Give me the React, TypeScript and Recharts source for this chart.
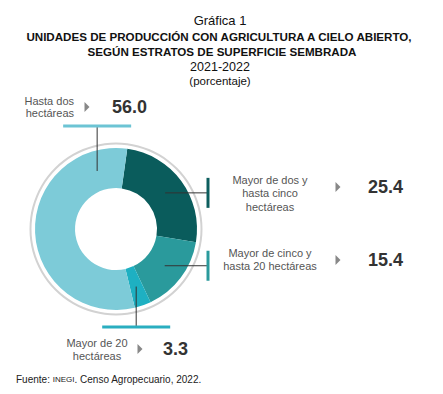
import React from 'react';
import { PieChart, Pie, Cell } from 'recharts';

const categories = [
  'Mayor de dos y hasta cinco hectáreas',
  'Mayor de cinco y hasta 20 hectáreas',
  'Mayor de 20 hectáreas',
  'Hasta dos hectáreas',
];
const values = [25.4, 15.4, 3.3, 56.0];
const valueLabels = ['25.4', '15.4', '3.3', '56.0'];
const labelLines = [
  ['Mayor de dos y', 'hasta cinco', 'hectáreas'],
  ['Mayor de cinco y', 'hasta 20 hectáreas'],
  ['Mayor de 20', 'hectáreas'],
  ['Hasta dos', 'hectáreas'],
];
const titleLines = [
  'Gráfica 1',
  'UNIDADES DE PRODUCCIÓN CON AGRICULTURA A CIELO ABIERTO,',
  'SEGÚN ESTRATOS DE SUPERFICIE SEMBRADA',
  '2021-2022',
  '(porcentaje)',
];

const data = categories.map((name, i) => ({ name, value: values[i] }));
const ringData = [{ name: 'ring', value: 1 }];

const sliceColors = ['#0a5c5c', '#2a9a9c', '#1eb0c2', '#7dcbd8'];
const barColors = ['#0d5e5e', '#2a9a9c', '#2aaec0', '#6cc4d4'];

type Layout = {
  kind: 'right' | 'up' | 'down';
  angle?: number;
  barPos: number;
  textX: number;
  textAnchor: 'start' | 'middle' | 'end';
  textYs: number[];
  triX: number;
  triY: number;
  valX: number;
  valY: number;
};

const layout: Layout[] = [
  { kind: 'right', barPos: 208, textX: 270, textAnchor: 'middle', textYs: [180, 193, 207], triX: 338, triY: 187, valX: 368, valY: 187 },
  { kind: 'right', barPos: 208, textX: 270, textAnchor: 'middle', textYs: [253, 266], triX: 338, triY: 260, valX: 368, valY: 260 },
  { kind: 'down', barPos: 327, textX: 97, textAnchor: 'middle', textYs: [343, 356], triX: 140, triY: 349, valX: 163, valY: 349 },
  { kind: 'up', angle: 108, barPos: 126, textX: 74, textAnchor: 'end', textYs: [101, 113], triX: 87, triY: 107, valX: 112, valY: 107 },
];

const RAD = Math.PI / 180;
const FONT = '"Liberation Sans", Arial, sans-serif';

const renderLabel = (props: any) => {
  const { cx, cy, midAngle, innerRadius, outerRadius, index } = props;
  const L = layout[index];
  const ang = L.angle ?? midAngle;
  const r = (innerRadius + outerRadius) / 2;
  const ax = cx + r * Math.cos(-ang * RAD);
  const ay = cy + r * Math.sin(-ang * RAD);
  const color = barColors[index];
  let line: React.ReactNode;
  let bar: React.ReactNode;
  if (L.kind === 'right') {
    line = <line x1={ax} y1={ay} x2={L.barPos} y2={ay} stroke="#333" strokeWidth={1} />;
    bar = <line x1={L.barPos} y1={ay - 15} x2={L.barPos} y2={ay + 15} stroke={color} strokeWidth={3} />;
  } else {
    line = <line x1={ax} y1={ay} x2={ax} y2={L.barPos} stroke="#333" strokeWidth={1} />;
    bar = <line x1={ax - 34} y1={L.barPos} x2={ax + 34} y2={L.barPos} stroke={color} strokeWidth={3} />;
  }
  return (
    <g>
      {line}
      {bar}
      {labelLines[index].map((t, i) => (
        <text key={i} x={L.textX} y={L.textYs[i]} textAnchor={L.textAnchor} dominantBaseline="central"
          fontFamily={FONT} fontSize={11} fill="#555">{t}</text>
      ))}
      <polygon points={`${L.triX - 2.5},${L.triY - 5} ${L.triX + 2.5},${L.triY} ${L.triX - 2.5},${L.triY + 5}`} fill="#888" />
      <text x={L.valX} y={L.valY} dominantBaseline="central" fontFamily={FONT} fontSize={18} fontWeight="bold" fill="#333">
        {valueLabels[index]}
      </text>
    </g>
  );
};

export default function App() {
  return (
    <div style={{ position: 'absolute', left: 0, top: 0, background: '#fff' }}>
      <PieChart width={443} height={394}>
        <Pie data={ringData} dataKey="value" cx={111} cy={224} innerRadius={84.5} outerRadius={86.5}
          startAngle={90} endAngle={-270} fill="#d2d2d2" stroke="none"
          isAnimationActive={false} label={false} labelLine={false} />
        <Pie data={data} dataKey="value" cx={111} cy={224} innerRadius={41} outerRadius={81}
          startAngle={82} endAngle={-278} stroke="none" isAnimationActive={false}
          label={renderLabel} labelLine={false}>
          {data.map((d, i) => <Cell key={d.name} fill={sliceColors[i]} />)}
        </Pie>
        <text x={220} y={20} textAnchor="middle" dominantBaseline="central" fontFamily={FONT} fontSize={13} fill="#111">{titleLines[0]}</text>
        <text x={219} y={36} textAnchor="middle" dominantBaseline="central" fontFamily={FONT} fontSize={11.6} fontWeight="bold" fill="#111">{titleLines[1]}</text>
        <text x={222} y={51} textAnchor="middle" dominantBaseline="central" fontFamily={FONT} fontSize={11.6} fontWeight="bold" fill="#111">{titleLines[2]}</text>
        <text x={220} y={67} textAnchor="middle" dominantBaseline="central" fontFamily={FONT} fontSize={12.5} fill="#111">{titleLines[3]}</text>
        <text x={220} y={81} textAnchor="middle" dominantBaseline="central" fontFamily={FONT} fontSize={11.5} fill="#111">{titleLines[4]}</text>
        <text x={16} y={379} dominantBaseline="central" fontFamily={FONT} fontSize={10} fill="#222">
          Fuente: <tspan fontSize={8}>INEGI</tspan>. Censo Agropecuario, 2022.
        </text>
      </PieChart>
    </div>
  );
}
